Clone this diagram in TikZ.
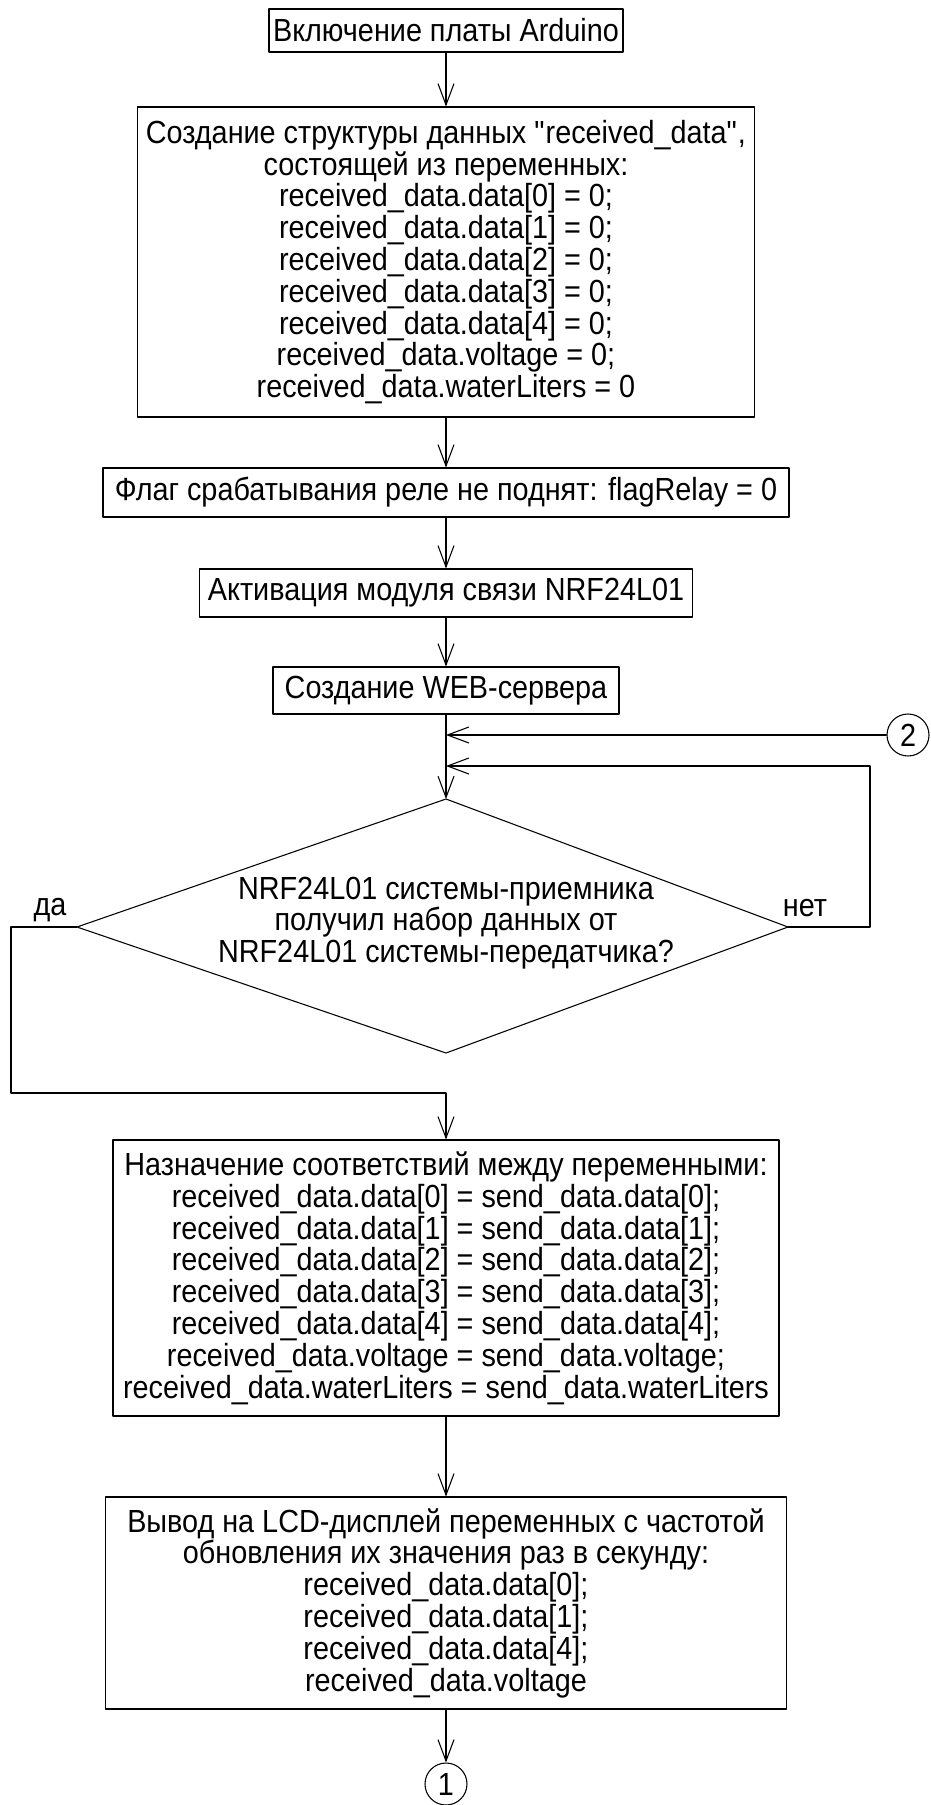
\documentclass[tikz,border=0pt]{standalone}
\usepackage{fontspec}
\setmainfont{Liberation Sans}[FakeStretch=0.9]
\usetikzlibrary{arrows.meta}

\begin{document}
\begin{tikzpicture}[x=0.75pt,y=-0.75pt,line width=0.8pt,line join=round,line cap=round,
		font=\fontsize{24pt}{23.85pt}\selectfont,
		>={Straight Barb[length=16pt,width=12pt,line width=0.8pt]},
		blok/.style={draw,rectangle,inner sep=0pt,align=center},
		usl/.style={inner sep=0pt,align=center},
		soed/.style={draw,circle,inner sep=0pt,minimum size=31.5pt}]
		\useasboundingbox (0,0) rectangle (931,1805);
		\node[blok,minimum width=265.5pt,minimum height=32.25pt] (vkl) at (446,30.5) {Включение платы Arduino};
		\node[blok,minimum width=462.75pt,minimum height=232.5pt] (struct) at (446,262) {Создание структуры данных \textquotedbl received\_data\textquotedbl,\\состоящей из переменных:\\received\_data.data[0] = 0;\\received\_data.data[1] = 0;\\received\_data.data[2] = 0;\\received\_data.data[3] = 0;\\received\_data.data[4] = 0;\\received\_data.voltage = 0;\\received\_data.waterLiters = 0};
		\node[blok,minimum width=514.5pt,minimum height=36.75pt] (flag) at (446,492.5) {Флаг срабатывания реле не поднят: flagRelay = 0};
		\node[blok,minimum width=369.75pt,minimum height=36pt] (aktiv) at (446,593) {Активация модуля связи NRF24L01};
		\node[blok,minimum width=259.5pt,minimum height=35.25pt] (server) at (446,690.5) {Создание WEB-сервера};
		\node[soed] (soed2) at (908,735) {2};
		% romb
		\coordinate (dtop) at (446,799);
		\coordinate (dleft) at (77,927);
		\coordinate (dright) at (788,927);
		\coordinate (dbot) at (446,1053);
		\draw (dtop) -- (dright) -- (dbot) -- (dleft) -- cycle;
		\node[usl] (vopr) at (446,923) {NRF24L01 системы-приемника\\получил набор данных от\\NRF24L01 системы-передатчика?};
		\node (da) at (50,910) {да};
		\node (net) at (805,908) {нет};
		\coordinate (netugol) at (870,766);
		\coordinate (daugol) at (11,1093);
		\node[blok,minimum width=499.5pt,minimum height=207pt] (nazn) at (446,1278) {Назначение соответствий между переменными:\\received\_data.data[0] = send\_data.data[0];\\received\_data.data[1] = send\_data.data[1];\\received\_data.data[2] = send\_data.data[2];\\received\_data.data[3] = send\_data.data[3];\\received\_data.data[4] = send\_data.data[4];\\received\_data.voltage = send\_data.voltage;\\received\_data.waterLiters = send\_data.waterLiters};
		\node[blok,minimum width=510.75pt,minimum height=159pt] (lcd) at (446,1603) {Вывод на LCD-дисплей переменных с частотой\\обновления их значения раз в секунду:\\received\_data.data[0];\\received\_data.data[1];\\received\_data.data[4];\\received\_data.voltage};
		\node[soed] (soed1) at (446,1784) {1};
		\draw[->] (vkl) -- (struct);
		\draw[->] (struct) -- (flag);
		\draw[->] (flag) -- (aktiv);
		\draw[->] (aktiv) -- (server);
		\draw[->] (server) -- (dtop);
		\draw[->] (soed2) -- (soed2 -| dtop);
		\draw[->] (dright) -| (netugol) -- (netugol -| dtop);
		\draw[->] (dleft) -| (daugol) -| (nazn.north);
		\draw[->] (nazn) -- (lcd);
		\draw[->] (lcd) -- (soed1);
	\end{tikzpicture}
\end{document}
